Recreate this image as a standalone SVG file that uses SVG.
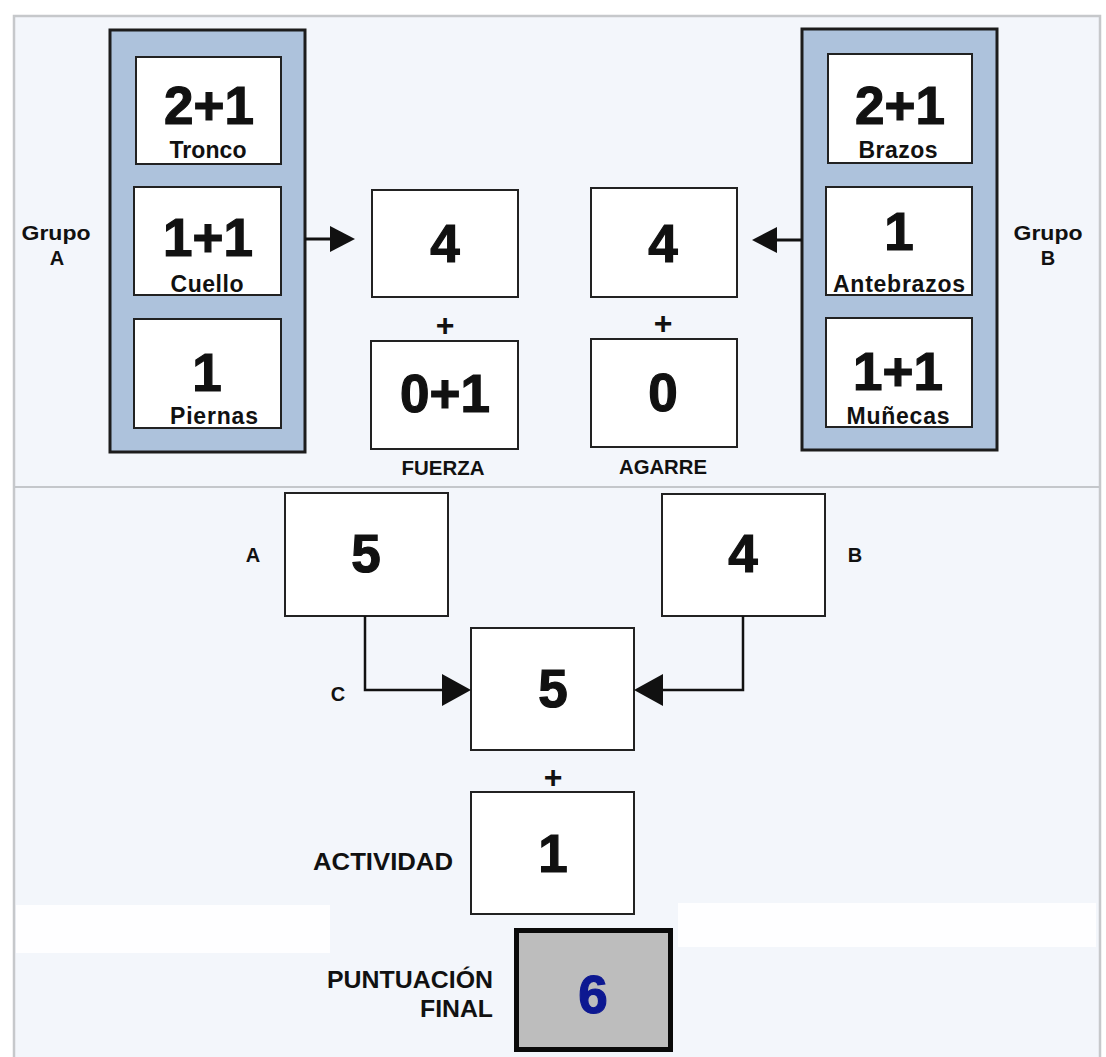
<svg xmlns="http://www.w3.org/2000/svg" width="1106" height="1057" viewBox="0 0 1106 1057">
<style>
.bg{fill:#f3f6fb}
.frame{fill:none;stroke:#c6c8cb;stroke-width:2.5}
.div{stroke:#c4c7cb;stroke-width:2}
.grp{fill:#adc2dc;stroke:#1c1c1c;stroke-width:3}
.box{fill:#ffffff;stroke:#222222;stroke-width:2}
.fin{fill:#bdbdbd;stroke:#0a0a0a;stroke-width:5}
.num{font-family:"Liberation Sans",Arial,sans-serif;font-weight:bold;font-size:53px;fill:#111;stroke:#111;stroke-width:1.2;text-anchor:middle}
.sub{font-family:"Liberation Sans",Arial,sans-serif;font-weight:bold;font-size:23px;fill:#111;text-anchor:middle}
.lbl{font-family:"Liberation Sans",Arial,sans-serif;font-weight:bold;font-size:20px;fill:#111;text-anchor:middle}
.lblr{font-family:"Liberation Sans",Arial,sans-serif;font-weight:bold;font-size:24px;fill:#111;text-anchor:end}
.plus{font-family:"Liberation Sans",Arial,sans-serif;font-weight:bold;font-size:32px;fill:#111;text-anchor:middle}
.conn{fill:none;stroke:#111;stroke-width:3}
.conn2{fill:none;stroke:#111;stroke-width:2.5}
</style>
<defs>
<marker id="ah" markerUnits="userSpaceOnUse" markerWidth="26" markerHeight="26" refX="0" refY="13" orient="auto">
<path d="M0,0 L25,13 L0,26 Z" fill="#111"/>
</marker>
<marker id="ahb" markerUnits="userSpaceOnUse" markerWidth="30" markerHeight="32" refX="0" refY="16" orient="auto">
<path d="M0,0 L29,16 L0,32 Z" fill="#111"/>
</marker>
</defs>

<rect x="0" y="0" width="1106" height="1057" fill="#ffffff"/>
<rect class="bg" x="14" y="16" width="1086" height="1045"/>
<path class="frame" d="M14,1057 L14,16 L1100,16 L1100,1057"/>
<line class="div" x1="14" y1="487" x2="1100" y2="487"/>
<rect x="16" y="905" width="314" height="48" fill="#ffffff" opacity="0.85"/>
<rect x="678" y="903" width="418" height="44" fill="#ffffff" opacity="0.85"/>

<g id="grupoA">
<rect class="grp" x="110" y="30" width="195" height="422"/>
<text class="lbl" x="56" y="240" font-size="21" textLength="69" lengthAdjust="spacingAndGlyphs">Grupo</text>
<text class="lbl" x="57" y="265">A</text>
</g>
<g id="tronco">
<rect class="box" x="136" y="57" width="145" height="107"/>
<text class="num" x="209" y="124">2+1</text>
<text class="sub" x="208" y="158" textLength="77">Tronco</text>
</g>
<g id="cuello">
<rect class="box" x="134" y="187" width="147" height="108"/>
<text class="num" x="208" y="256">1+1</text>
<text class="sub" x="207" y="292" textLength="73">Cuello</text>
</g>
<g id="piernas">
<rect class="box" x="134" y="319" width="147" height="109"/>
<text class="num" x="207" y="391">1</text>
<text class="sub" x="214" y="424" textLength="88">Piernas</text>
</g>

<g id="grupoB">
<rect class="grp" x="802" y="29" width="195" height="421"/>
<text class="lbl" x="1048" y="240" font-size="21" textLength="69" lengthAdjust="spacingAndGlyphs">Grupo</text>
<text class="lbl" x="1048" y="265">B</text>
</g>
<g id="brazos">
<rect class="box" x="828" y="54" width="144" height="109"/>
<text class="num" x="900" y="124">2+1</text>
<text class="sub" x="898" y="158" textLength="79">Brazos</text>
</g>
<g id="antebrazos">
<rect class="box" x="826" y="187" width="146" height="108"/>
<text class="num" x="899" y="250">1</text>
<text class="sub" x="899" y="292" textLength="132">Antebrazos</text>
</g>
<g id="munecas">
<rect class="box" x="826" y="318" width="146" height="109"/>
<text class="num" x="898" y="390">1+1</text>
<text class="sub" x="898" y="424" textLength="103">Muñecas</text>
</g>

<g id="fuerzaA">
<rect class="box" x="372" y="190" width="146" height="107"/>
<text class="num" x="445" y="262">4</text>
</g>
<text class="plus" x="445" y="336">+</text>
<g id="fuerza">
<rect class="box" x="371" y="341" width="147" height="108"/>
<text class="num" x="445" y="412">0+1</text>
<text class="lbl" x="443" y="475" font-size="19" textLength="83" lengthAdjust="spacingAndGlyphs">FUERZA</text>
</g>

<g id="agarreB">
<rect class="box" x="591" y="188" width="146" height="109"/>
<text class="num" x="663" y="262">4</text>
</g>
<text class="plus" x="663" y="334">+</text>
<g id="agarre">
<rect class="box" x="591" y="339" width="146" height="108"/>
<text class="num" x="663" y="411">0</text>
<text class="lbl" x="663" y="474" font-size="19" textLength="88" lengthAdjust="spacingAndGlyphs">AGARRE</text>
</g>

<g id="puntA">
<rect class="box" x="285" y="493" width="163" height="123"/>
<text class="num" x="366" y="572">5</text>
<text class="lbl" x="253" y="562" font-size="22">A</text>
</g>
<g id="puntB">
<rect class="box" x="662" y="494" width="163" height="122"/>
<text class="num" x="743" y="572">4</text>
<text class="lbl" x="855" y="562" font-size="22">B</text>
</g>
<g id="puntC">
<rect class="box" x="471" y="628" width="163" height="122"/>
<text class="num" x="553" y="707">5</text>
<text class="lbl" x="338" y="701" font-size="22">C</text>
</g>
<text class="plus" x="553" y="788">+</text>
<g id="actividad">
<rect class="box" x="471" y="792" width="163" height="122"/>
<text class="num" x="553" y="872">1</text>
<text class="lblr" x="453" y="870" textLength="140" lengthAdjust="spacingAndGlyphs">ACTIVIDAD</text>
</g>
<g id="final">
<rect class="fin" x="516.5" y="930.5" width="154" height="119"/>
<text class="num" x="593" y="1013" font-size="72" style="fill:#0d1891;stroke:#0d1891">6</text>
<text class="lblr" x="493" y="988" textLength="166" lengthAdjust="spacingAndGlyphs">PUNTUACIÓN</text>
<text class="lblr" x="493" y="1017" textLength="73" lengthAdjust="spacingAndGlyphs">FINAL</text>
</g>

<g id="connectors">
<line class="conn" x1="305" y1="239" x2="330" y2="239" marker-end="url(#ah)"/>
<line class="conn" x1="802" y1="240" x2="777" y2="240" marker-end="url(#ah)"/>
<polyline class="conn2" points="365,616 365,690 442,690" marker-end="url(#ahb)"/>
<polyline class="conn2" points="743,616 743,690 663,690" marker-end="url(#ahb)"/>
</g>
</svg>
